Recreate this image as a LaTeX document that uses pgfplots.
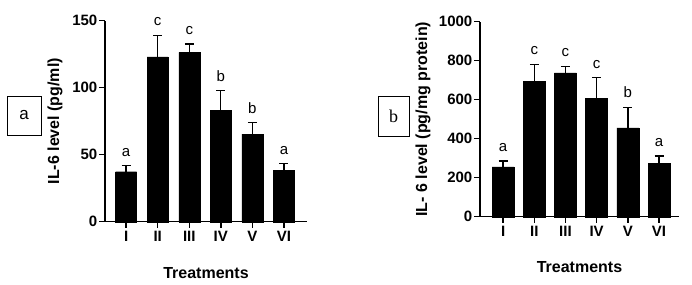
\documentclass[border=0pt]{standalone}
\usepackage{pgfplots}
\pgfplotsset{compat=1.18}
\usepackage{fontspec}
\setmainfont{Liberation Sans}
\newfontfamily\seriffont{Liberation Serif}
\pgfplotsset{
 myaxis/.style={
  scale only axis,
  axis x line*=bottom, axis y line*=left,
  axis line style={line width=1.5pt},
  every tick/.style={line width=1.5pt, black},
  tick align=outside,
  major tick length=6pt,
  xtick={0,...,5}, xticklabels={I,II,III,IV,V,VI},
  ymin=0,
  /pgf/number format/assume math mode=true,
  /pgf/number format/1000 sep={},
  tick label style={font=\fontsize{15}{15}\selectfont\bfseries},
  yticklabel style={inner sep=1.5pt},
  xticklabel style={inner sep=3pt},
  label style={font=\fontsize{16}{16}\selectfont\bfseries},
  clip=false,
 },
 mybar/.style={ybar, bar width=21pt, fill=black, draw=black,
  error bars/y dir=plus, error bars/y explicit,
  error bars/error bar style={line width=1.3pt, black},
  error bars/error mark options={line width=1.3pt, mark size=4.5pt, black, rotate=90}},
 myletters/.style={only marks, mark=none, nodes near coords, point meta=explicit symbolic,
  every node near coord/.append style={anchor=base, yshift=9.5pt, inner sep=0pt, font=\fontsize{15}{15}\selectfont}},
}
\begin{document}
\begin{tikzpicture}
\begin{axis}[myaxis, at={(105pt,62.3pt)}, anchor=south west,
  width=202pt, height=201pt, xmin=-0.67, xmax=5.73, ymax=150,
  ytick={0,50,100,150},
  ylabel={IL-6 level (pg/ml)}, xlabel={Treatments},
  ylabel style={at={(axis description cs:-0.248,0.5)}, anchor=center},
  xlabel style={at={(axis description cs:0.5,-0.255)}, anchor=center}]
\addplot[mybar] coordinates {(0,37.3) +- (0,4.5) (1,123) +- (0,16) (2,126.4) +- (0,6.2) (3,83.3) +- (0,14.5) (4,65.4) +- (0,8.5) (5,38.3) +- (0,5)};
\addplot[myletters] coordinates {(0,41.8) [a] (1,139) [c] (2,132.6) [c] (3,97.8) [b] (4,73.9) [b] (5,43.3) [a]};
\end{axis}
\draw[line width=0.9pt] (7pt,149pt) rectangle (41pt,188pt);
\node[font=\fontsize{17}{17}\selectfont] at (24pt,168.5pt) {a};
\begin{axis}[myaxis, at={(480pt,67.3pt)}, anchor=south west,
  width=199pt, height=195pt, xmin=-0.74, xmax=5.64, ymax=1000,
  ytick={0,200,400,600,800,1000},
  ylabel={IL- 6 level (pg/mg protein)}, xlabel={Treatments},
  ylabel style={at={(axis description cs:-0.286,0.5)}, anchor=center},
  xlabel style={at={(axis description cs:0.5,-0.258)}, anchor=center}]
\addplot[mybar, bar width=22pt] coordinates {(0,256) +- (0,29) (1,694) +- (0,87) (2,737) +- (0,34) (3,608) +- (0,105) (4,456) +- (0,105) (5,272) +- (0,39)};
\addplot[myletters] coordinates {(0,285) [a] (1,781) [c] (2,771) [c] (3,713) [c] (4,561) [b] (5,311) [a]};
\end{axis}
\draw[line width=0.9pt] (378pt,148pt) rectangle (409pt,188pt);
\node[font=\seriffont\fontsize{18}{18}\selectfont] at (393.5pt,168pt) {b};
\pgfresetboundingbox
\useasboundingbox (0,0) rectangle (692pt,284pt);
\end{tikzpicture}
\end{document}
